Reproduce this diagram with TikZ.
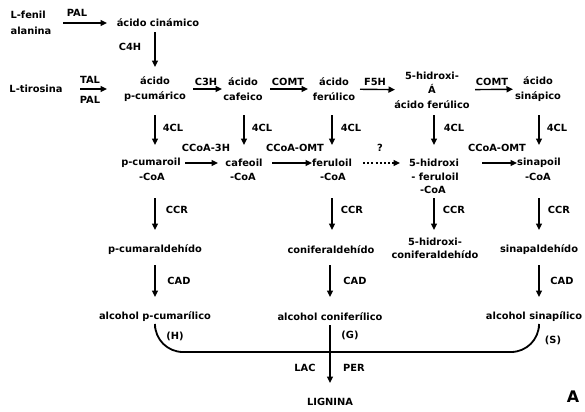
\documentclass[tikz,border=0pt]{standalone}
\usepackage{fontspec}
\setmainfont{DejaVu Sans}
\usetikzlibrary{arrows.meta}
\begin{document}
\begin{tikzpicture}[x=1bp,y=-1bp,
  txt/.style={font=\fontsize{9.9}{14.5}\selectfont\bfseries, inner sep=0pt, align=center},
  enz/.style={txt},
  arr/.style={-{Triangle[length=6.5bp,width=6bp]}, line width=1.4bp},
  dotarr/.style={arr, dash pattern=on 2bp off 2.2bp},
  brk/.style={line width=1.8bp, rounded corners=28bp}
]
\useasboundingbox[fill=white] (0,0) rectangle (585,411);
% row 1
\node[txt, align=left, font=\fontsize{9.9}{16.5}\selectfont\bfseries] (fen) at (31,23) {L-fenil\\alanina};
\node[txt] (cin) at (158,23) {ácido cinámico};
\node[txt] (tir) at (36,89) {L-tirosina};
\node[txt] (pcum) at (155,89) {ácido\\p-cumárico};
\node[txt] (caf) at (243,89) {ácido\\cafeico};
\node[txt] (fer) at (334,89) {ácido\\ferúlico};
\node[txt] (hfer) at (432,90) {5-hidroxi-\\Á\\ácido ferúlico};
\node[txt] (sin) at (538,89) {ácido\\sinápico};
% row 2
\node[txt] (pcoa) at (151,163) {p-cumaroil};
\node[txt] (pcoa2) at (152,177) {-CoA};
\node[txt] (cfoa) at (244,163) {cafeoil};
\node[txt] (cfoa2) at (243,177) {-CoA};
\node[txt] (froa) at (332,163) {feruloil};
\node[txt] (froa2) at (333,177) {-CoA};
\node[txt] (hfoa) at (434,163) {5-hidroxi};
\node[txt] (hfoa2) at (435,177) {- feruloil};
\node[txt] (hfoa3) at (433,190) {-CoA};
\node[txt] (snoa) at (539,163) {sinapoil};
\node[txt] (snoa2) at (538,177) {-CoA};
% row 3
\node[txt] (pald) at (155,250) {p-cumaraldehído};
\node[txt] (cald) at (331,250) {coniferaldehído};
\node[txt, font=\fontsize{9.9}{13.5}\selectfont\bfseries] (hald) at (435,248.5) {5-hidroxi-\\coniferaldehído};
\node[txt] (sald) at (539,250) {sinapaldehído};
% row 4
\node[txt] (palc) at (155,317) {alcohol p-cumarílico};
\node[txt] (calc) at (330,317) {alcohol coniferílico};
\node[txt] (salc) at (534,317) {alcohol sinapílico};
\node[txt] (lig) at (330,402) {LIGNINA};
\node[font=\fontsize{16}{16}\selectfont\bfseries, inner sep=0pt] (lblA) at (573,397) {A};
% enzyme labels
\node[enz] (e1) at (77,13) {PAL};
\node[enz] (e2) at (90,80) {TAL};
\node[enz] (e3) at (90,100) {PAL};
\node[enz] (e4) at (130,47) {C4H};
\node[enz] (e5) at (206,82) {C3H};
\node[enz] (e6) at (288,82) {COMT};
\node[enz] (e7) at (375,82) {F5H};
\node[enz] (e8) at (492,82) {COMT};
\node[enz] (f1) at (173,128) {4CL};
\node[enz] (f2) at (262,128) {4CL};
\node[enz] (f3) at (351,128) {4CL};
\node[enz] (f4) at (454,128) {4CL};
\node[enz] (f5) at (557,128) {4CL};
\node[enz] (g1) at (206,148) {CCoA-3H};
\node[enz] (g2) at (295,148) {CCoA-OMT};
\node[enz] (g3) at (380,148) {?};
\node[enz] (g4) at (497,148) {CCoA-OMT};
\node[enz] (h1) at (177,210) {CCR};
\node[enz] (h2) at (352,210) {CCR};
\node[enz] (h3) at (454,210) {CCR};
\node[enz] (h4) at (559,210) {CCR};
\node[enz] (k1) at (179,281) {CAD};
\node[enz] (k2) at (355,281) {CAD};
\node[enz] (k3) at (562,281) {CAD};
\node[enz] (pH) at (175,336) {(H)};
\node[enz] (pG) at (350,335) {(G)};
\node[enz] (pS) at (553,340) {(S)};
\node[enz] (lac) at (305,368) {LAC};
\node[enz] (per) at (354,368) {PER};
% row 1 arrows
\draw[arr, shorten <=32bp, shorten >=51bp] (fen.center) -- (cin.center);
\draw[arr, shorten <=44bp, shorten >=48bp] (tir.center) -- (pcum.center);
\draw[arr, shorten <=38bp, shorten >=21bp] (pcum.center) -- (caf.center);
\draw[arr, shorten <=27bp, shorten >=26bp] (caf.center) -- (fer.center);
\draw[arr, shorten <=26bp, shorten >=37bp] (fer.center) -- (hfer.center);
\draw[arr, shorten <=43bp, shorten >=25bp] (hfer.center) -- (sin.center);
\draw[arr, shorten <=9bp, shorten >=22bp] (pcum.center |- cin.center) -- (pcum.center);
% 4CL arrows
\draw[arr, shorten <=26bp, shorten >=18bp] (pcum.center) -- (pcum.center |- pcoa.center);
\draw[arr, shorten <=26bp, shorten >=18bp] (cfoa.center |- caf.center) -- (cfoa.center);
\draw[arr, shorten <=26bp, shorten >=18bp] (froa.center |- fer.center) -- (froa.center);
\draw[arr, shorten <=25bp, shorten >=18bp] (hfoa.center |- hfer.center) -- (hfoa.center);
\draw[arr, shorten <=26bp, shorten >=18bp] (snoa.center |- sin.center) -- (snoa.center);
% row 2 arrows
\draw[arr, shorten <=34bp, shorten >=26bp] (pcoa.center) -- (cfoa.center);
\draw[arr, shorten <=28bp, shorten >=20bp] (cfoa.center) -- (froa.center);
\draw[dotarr, shorten <=31bp, shorten >=34bp] (froa.center) -- (hfoa.center);
\draw[arr, shorten <=48bp, shorten >=22bp] (hfoa.center) -- (snoa.center);
% CCR arrows
\draw[arr, shorten <=21bp, shorten >=20bp] (pald.center |- pcoa2.center) -- (pald.center);
\draw[arr, shorten <=21bp, shorten >=20bp] (froa.center |- froa2.center) -- (froa.center |- cald.center);
\draw[arr, shorten <=8bp, shorten >=18.5bp] (hfoa.center |- hfoa3.center) -- (hfoa.center |- hald.center);
\draw[arr, shorten <=21bp, shorten >=20bp] (snoa.center |- snoa2.center) -- (snoa.center |- sald.center);
% CAD arrows
\draw[arr, shorten <=15bp, shorten >=20bp] (pald.center) -- (pald.center |- palc.center);
\draw[arr, shorten <=15bp, shorten >=20bp] (calc.center |- cald.center) -- (calc.center);
\draw[arr, shorten <=15bp, shorten >=20bp] (sald.center) -- (sald.center |- salc.center);
% bracket
\coordinate (brkmid) at (330,352);
\draw[brk] ([yshift=-11bp]pald.center |- palc.center) |- (brkmid) -| ([yshift=-11bp]sald.center |- salc.center);
% lignin
\draw[arr, shorten <=8bp, shorten >=19bp] (calc.center) -- (lig.center);
\end{tikzpicture}
\end{document}
